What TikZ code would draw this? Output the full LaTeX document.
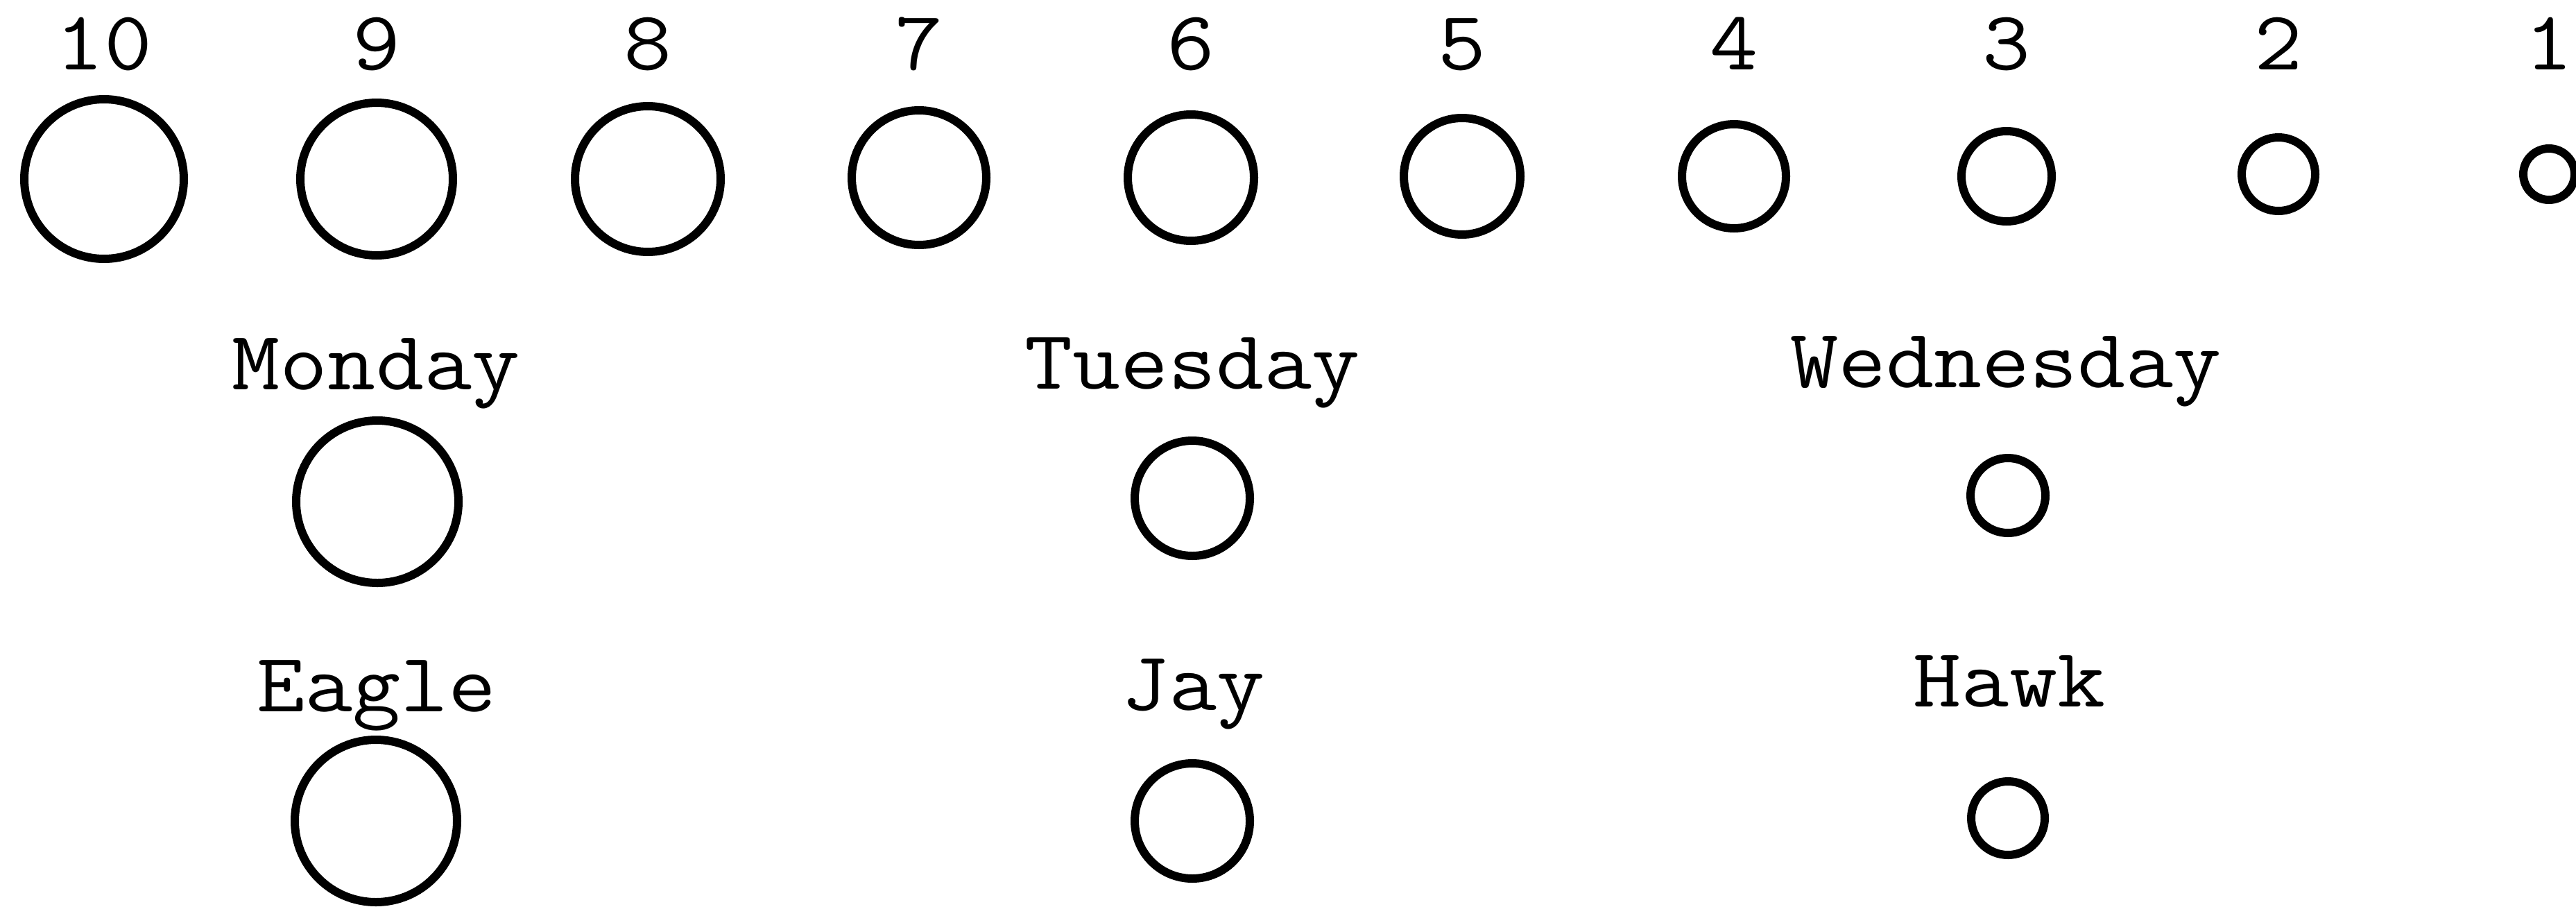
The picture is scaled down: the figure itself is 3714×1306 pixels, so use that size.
\documentclass[tikz,border=0pt]{standalone}
\usepackage{fontspec}
\usepackage{graphicx}
\newcommand\widetxt[1]{\scalebox{1.11}[1]{#1}}
\begin{document}
\begin{tikzpicture}[x=0.1mm,y=-0.1mm,
  dot/.style={circle, draw=black, line width=1.2mm, inner sep=0pt, minimum size=#1*0.2mm},
  lab/.style={anchor=base, inner sep=0pt, font=\ttfamily\fontsize{34.4pt}{40pt}\selectfont}]
\useasboundingbox (0,0) rectangle (3714,1306);
% top row
\node[dot=115] (c10) at (150,258) {};
\node[dot=110] (c9) at (543,258) {};
\node[dot=105] (c8) at (934,258) {};
\node[dot=97]  (c7) at (1325,256) {};
\node[dot=91]  (c6) at (1717,256) {};
\node[dot=84]  (c5) at (2108,254) {};
\node[dot=75]  (c4) at (2500,254) {};
\node[dot=65]  (c3) at (2893,254) {};
\node[dot=53]  (c2) at (3285,251) {};
\node[dot=37]  (c1) at (3675,251) {};
\node[lab] (l10) at (150,100) {\widetxt{10}};
\node[lab] (l9) at (543,100) {\widetxt{9}};
\node[lab] (l8) at (934,100) {\widetxt{8}};
\node[lab] (l7) at (1325,100) {\widetxt{7}};
\node[lab] (l6) at (1717,100) {\widetxt{6}};
\node[lab] (l5) at (2108,100) {\widetxt{5}};
\node[lab] (l4) at (2500,100) {\widetxt{4}};
\node[lab] (l3) at (2893,100) {\widetxt{3}};
\node[lab] (l2) at (3285,100) {\widetxt{2}};
\node[lab] (l1) at (3675,100) {\widetxt{1}};
% middle row
\node[lab] (lmon) at (542,561) {\widetxt{Monday}};
\node[lab] (ltue) at (1719,560) {\widetxt{Tuesday}};
\node[lab] (lwed) at (2892,558) {\widetxt{Wednesday}};
\node[dot=117] (mon) at (544,723) {};
\node[dot=83]  (tue) at (1719,718) {};
\node[dot=54]  (wed) at (2895,714) {};
% bottom row
\node[lab] (leag) at (543,1025) {\widetxt{Eagle}};
\node[lab] (ljay) at (1720,1023) {\widetxt{Jay}};
\node[lab] (lhaw) at (2897,1018) {\widetxt{Hawk}};
\node[dot=117] (eag) at (542,1183) {};
\node[dot=83]  (jay) at (1719,1183) {};
\node[dot=53]  (haw) at (2895,1179) {};
\end{tikzpicture}
\end{document}
